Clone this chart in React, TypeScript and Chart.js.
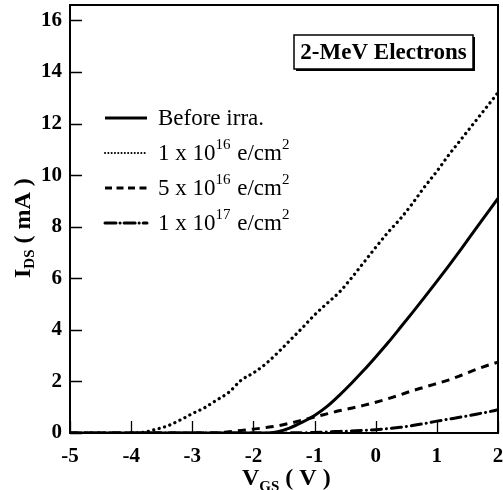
import { useEffect, useRef } from "react";
import { Chart, registerables } from "chart.js";

Chart.register(...registerables);

// Gate voltage sweep (V)
const VGS = [
  -5.0, -4.8, -4.6, -4.4, -4.2, -4.0, -3.8, -3.6, -3.4, -3.2, -3.0, -2.8,
  -2.6, -2.4, -2.2, -2.0, -1.8, -1.6, -1.4, -1.2, -1.0, -0.8, -0.6, -0.4,
  -0.2, 0.0, 0.2, 0.4, 0.6, 0.8, 1.0, 1.2, 1.4, 1.6, 1.8, 2.0,
];

// Drain current (mA) for each condition
const BEFORE_IRRA = [
  0, 0, 0, 0, 0, 0, 0, 0, 0, 0, 0, 0,
  0, 0, 0, 0, 0, 0.05, 0.2, 0.42, 0.68, 1.02, 1.45, 1.92,
  2.42, 2.95, 3.5, 4.08, 4.67, 5.27, 5.88, 6.5, 7.14, 7.8, 8.45, 9.1,
];
const DOSE_1E16 = [
  0, 0, 0, 0, 0, 0, 0.03, 0.14, 0.28, 0.5, 0.75, 0.98,
  1.28, 1.58, 2.05, 2.33, 2.68, 3.12, 3.6, 4.08, 4.58, 5.02, 5.45, 6.0,
  6.6, 7.2, 7.78, 8.3, 8.9, 9.55, 10.15, 10.8, 11.4, 12.0, 12.6, 13.2,
];
const DOSE_5E16 = [
  0, 0, 0, 0, 0, 0, 0, 0, 0, 0, 0, 0,
  0, 0.05, 0.1, 0.15, 0.21, 0.28, 0.38, 0.5, 0.62, 0.74, 0.86, 0.96,
  1.07, 1.19, 1.33, 1.48, 1.64, 1.78, 1.92, 2.06, 2.24, 2.43, 2.6, 2.75,
];
const DOSE_1E17 = [
  0, 0, 0, 0, 0, 0, 0, 0, 0, 0, 0, 0,
  0, 0, 0, 0, 0, 0, 0.005, 0.01, 0.02, 0.04, 0.06, 0.08,
  0.1, 0.13, 0.17, 0.22, 0.29, 0.37, 0.46, 0.54, 0.62, 0.71, 0.8, 0.9,
];

const X_TICKS = [-5, -4, -3, -2, -1, 0, 1, 2];
const Y_TICKS = [0, 2, 4, 6, 8, 10, 12, 14, 16];

const LEGEND_LABELS = [
  "Before irra.",
  "1 x 10^16 e/cm^2",
  "5 x 10^16 e/cm^2",
  "1 x 10^17 e/cm^2",
];
const TITLE_TEXT = "2-MeV Electrons";

const SERIF = '"Liberation Serif", "Times New Roman", serif';

const DASHES: number[][] = [[], [0.1, 5.5], [8, 6], [10, 5, 0.1, 5]];
const LEGEND_DASHES: number[][] = [[], [0.1, 3.2], [7, 4.5], [11, 4, 0.1, 4]];

type Part = { text: string; sup?: boolean };

function parseLabel(label: string): Part[] {
  const parts: Part[] = [];
  const re = /\^(\d+)/g;
  let last = 0;
  let m: RegExpExecArray | null;
  while ((m = re.exec(label))) {
    if (m.index > last) parts.push({ text: label.slice(last, m.index) });
    parts.push({ text: m[1], sup: true });
    last = m.index + m[0].length;
  }
  if (last < label.length) parts.push({ text: label.slice(last) });
  return parts;
}

const decorPlugin = {
  id: "decor",
  afterDraw(chart: any) {
    const ctx: CanvasRenderingContext2D = chart.ctx;
    const { left, right, top, bottom } = chart.chartArea;
    const xs = chart.scales.x;
    const ys = chart.scales.y;
    ctx.save();
    ctx.strokeStyle = "#000";
    ctx.fillStyle = "#000";

    // frame
    ctx.lineWidth = 2;
    ctx.strokeRect(left, top, right - left, bottom - top);

    // inward tick marks
    ctx.lineWidth = 1.3;
    ctx.beginPath();
    X_TICKS.forEach((v) => {
      const px = Math.round(xs.getPixelForValue(v)) + 0.5;
      ctx.moveTo(px, bottom);
      ctx.lineTo(px, bottom - 12);
    });
    Y_TICKS.forEach((v) => {
      const py = Math.round(ys.getPixelForValue(v)) + 0.5;
      ctx.moveTo(left, py);
      ctx.lineTo(left + 12, py);
    });
    ctx.stroke();

    // legend
    const rowBase = [125, 160, 195, 230];
    LEGEND_LABELS.forEach((label, i) => {
      const yb = rowBase[i];
      ctx.save();
      ctx.lineWidth = i === 1 ? 2 : 3;
      ctx.lineCap = i === 1 || i === 3 ? "round" : "butt";
      ctx.setLineDash(LEGEND_DASHES[i]);
      ctx.beginPath();
      ctx.moveTo(105, yb - 7);
      ctx.lineTo(147, yb - 7);
      ctx.stroke();
      ctx.restore();

      let x = 158;
      ctx.textBaseline = "alphabetic";
      ctx.textAlign = "left";
      parseLabel(label).forEach((p) => {
        ctx.font = p.sup ? `15px ${SERIF}` : `23px ${SERIF}`;
        ctx.fillText(p.text, x, p.sup ? yb - 11 : yb);
        x += ctx.measureText(p.text).width + (p.sup ? 1 : 0);
      });
    });

    // boxed annotation
    ctx.font = `bold 23px ${SERIF}`;
    const bx = 294, by = 35, bw = 179, bh = 34;
    ctx.fillStyle = "#fff";
    ctx.fillRect(bx, by, bw, bh);
    ctx.fillStyle = "#000";
    ctx.fillRect(bx + 2, by + bh, bw, 2);
    ctx.fillRect(bx + bw, by + 2, 2, bh);
    ctx.lineWidth = 1.5;
    ctx.strokeRect(bx, by, bw, bh);
    ctx.textAlign = "center";
    ctx.fillText(TITLE_TEXT, bx + bw / 2, 59);

    // x-axis title: V_GS ( V )
    ctx.textAlign = "left";
    let tx = 242;
    ctx.font = `bold 24px ${SERIF}`;
    ctx.fillText("V", tx, 485);
    tx += ctx.measureText("V").width;
    ctx.font = `bold 15px ${SERIF}`;
    ctx.fillText("GS", tx, 491);
    tx += ctx.measureText("GS").width;
    ctx.font = `bold 24px ${SERIF}`;
    ctx.fillText(" ( V )", tx, 485);

    // y-axis title: I_DS ( mA )
    ctx.translate(30, 278);
    ctx.rotate(-Math.PI / 2);
    let ty = 0;
    ctx.font = `bold 24px ${SERIF}`;
    ctx.fillText("I", ty, 0);
    ty += ctx.measureText("I").width;
    ctx.font = `bold 15px ${SERIF}`;
    ctx.fillText("DS", ty, 4);
    ty += ctx.measureText("DS").width;
    ctx.font = `bold 24px ${SERIF}`;
    ctx.fillText(" ( mA )", ty, 0);

    ctx.restore();
  },
};

export default function App() {
  const canvasRef = useRef<HTMLCanvasElement | null>(null);

  useEffect(() => {
    if (!canvasRef.current) return;
    const series = [BEFORE_IRRA, DOSE_1E16, DOSE_5E16, DOSE_1E17];
    const chart = new Chart(canvasRef.current, {
      type: "line",
      data: {
        datasets: series.map((ys, i) => ({
          label: LEGEND_LABELS[i],
          data: VGS.map((x, k) => ({ x, y: ys[k] })),
          borderColor: "#000",
          borderWidth: i === 1 ? 3.2 : 3,
          borderDash: DASHES[i],
          borderCapStyle: i === 1 || i === 3 ? "round" : "butt",
          pointRadius: 0,
          cubicInterpolationMode: "monotone",
          fill: false,
        })),
      },
      options: {
        animation: false,
        responsive: false,
        devicePixelRatio: 1,
        layout: { padding: { top: 5, right: 5, left: 0, bottom: 0 } },
        plugins: {
          legend: { display: false },
          tooltip: { enabled: false },
        },
        scales: {
          x: {
            type: "linear",
            min: -5,
            max: 2,
            afterBuildTicks: (s: any) => {
              s.ticks = X_TICKS.map((value) => ({ value }));
            },
            afterFit: (s: any) => {
              s.height = 57;
              s.paddingLeft = 0;
              s.paddingRight = 0;
            },
            grid: { display: false, drawTicks: false },
            border: { display: false },
            ticks: {
              color: "#000",
              padding: 11,
              maxRotation: 0,
              font: { family: SERIF, size: 21, weight: "bold" },
            },
          },
          y: {
            type: "linear",
            min: 0,
            max: 16.6,
            afterBuildTicks: (s: any) => {
              s.ticks = Y_TICKS.map((value) => ({ value }));
            },
            afterFit: (s: any) => {
              s.width = 70;
              s.paddingTop = 0;
              s.paddingBottom = 0;
            },
            grid: { display: false, drawTicks: false },
            border: { display: false },
            ticks: {
              color: "#000",
              padding: 8,
              font: { family: SERIF, size: 21, weight: "bold" },
            },
          },
        },
      },
      plugins: [decorPlugin],
    } as any);
    return () => chart.destroy();
  }, []);

  return (
    <div style={{ position: "absolute", left: 0, top: 0, width: 503, height: 490, background: "#fff" }}>
      <canvas ref={canvasRef} width={503} height={490} style={{ display: "block" }} />
    </div>
  );
}
